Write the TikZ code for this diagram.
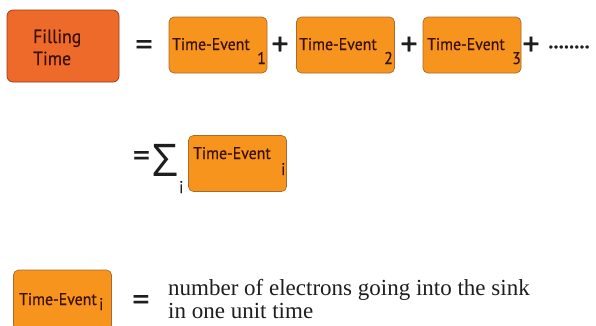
\documentclass[tikz,border=0pt]{standalone}
\usepackage{fontspec}
\setmainfont{Liberation Serif}
\newfontfamily\boxfont[FakeBold=0.5,FakeStretch=0.93]{PT Sans}
\newfontfamily\opfont[FakeBold=0.3]{PT Sans}
\newfontfamily\sigfont{Open Sans}
\definecolor{ftfill}{HTML}{EE6A2A}
\definecolor{ftbord}{HTML}{9A3A12}
\definecolor{tefill}{HTML}{F7941D}
\definecolor{tebord}{HTML}{A86A2C}
\definecolor{txt}{HTML}{3A1204}
\definecolor{optxt}{HTML}{1E1E1E}
\begin{document}
\begin{tikzpicture}[x=1pt,y=-1pt,
  tebox/.style={draw=tebord, fill=tefill, rounded corners=5pt, line width=0.7pt, minimum width=98pt, minimum height=56pt, inner sep=0pt},
  ftbox/.style={draw=ftbord, fill=ftfill, rounded corners=6pt, line width=0.7pt, minimum width=112pt, minimum height=72pt, inner sep=0pt},
  lbl/.style={inner sep=0pt, anchor=base west, text=txt, font=\boxfont\fontsize{17}{20}\selectfont},
  ftlbl/.style={inner sep=0pt, anchor=base west, text=txt, font=\boxfont\fontsize{19}{22}\selectfont},
  op/.style={inner sep=0pt, text=optxt, font=\opfont\fontsize{34}{40}\selectfont},
  desc/.style={inner sep=0pt, anchor=base west, text=optxt, font=\fontsize{23}{23}\selectfont}]
\useasboundingbox (0,0) rectangle (596,325);
\fill[white] (0,0) rectangle (596,325);
% row 1
\node[ftbox] (ft) at (63,46) {};
\node[ftlbl] (ft1) at (33,43) {Filling};
\node[ftlbl] (ft2) at (33,65) {Time};
\node[op] (eq1) at (144,48) {=};
\node[tebox] (te1) at (218,45) {};
\node[lbl] (te1t) at (172,50) {Time-Event};
\node[lbl] (te1s) at (257,64) {1};
\node[op] (p1) at (280,46) {+};
\node[tebox] (te2) at (345.5,45) {};
\node[lbl] (te2t) at (299,50) {Time-Event};
\node[lbl] (te2s) at (384,64) {2};
\node[op] (p2) at (409,46) {+};
\node[tebox] (te3) at (472,45) {};
\node[lbl] (te3t) at (427,50) {Time-Event};
\node[lbl] (te3s) at (512,64) {3};
\node[op] (p3) at (531,46) {+};
\node[inner sep=0pt, text=optxt, font=\opfont\bfseries\fontsize{20}{20}\selectfont] (dots) at (569,47) {........};
% row 2
\node[op] (eq2) at (141.5,159) {=};
\node[inner sep=0pt, text=optxt, font=\sigfont\fontsize{45}{45}\selectfont] (sig) at (165.5,160) {Σ};
\node[lbl, text=optxt] (sigi) at (179,193) {i};
\node[tebox] (tei) at (237.5,163.5) {};
\node[lbl] (teit) at (193,159) {Time-Event};
\node[lbl] (teis) at (281,175) {i};
% row 3
\node[tebox, minimum height=60pt] (teb) at (62.5,300) {};
\node[lbl] (tebt) at (19,305) {Time-Event};
\node[lbl] (tebs) at (99,310) {i};
\node[op] (eq3) at (141,303) {=};
\node[desc] (d1) at (168,295) {number of electrons going into the sink};
\node[desc] (d2) at (168,318) {in one unit time};
\end{tikzpicture}
\end{document}
